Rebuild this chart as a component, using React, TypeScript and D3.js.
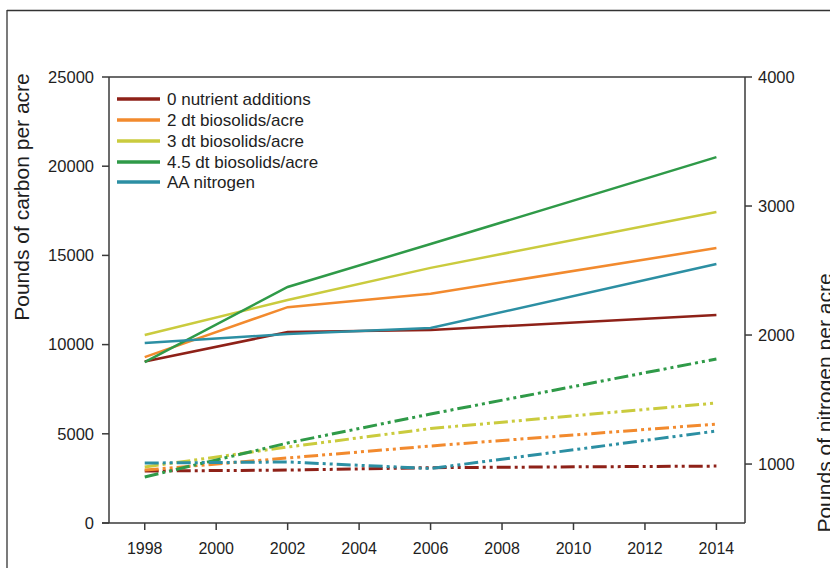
import React from "react";
import * as d3 from "d3";

const years = [1998, 2002, 2006, 2014];
const seriesNames = ["0 nutrient additions", "2 dt biosolids/acre", "3 dt biosolids/acre", "4.5 dt biosolids/acre", "AA nitrogen"];
const seriesColors = ["#8E2118", "#F28A2E", "#CACB3E", "#2F9A48", "#2C8FA3"];
// Pounds of carbon per acre (left axis, solid)
const carbon0 = [9050, 10700, 10820, 11660];
const carbon2 = [9300, 12100, 12850, 15410];
const carbon3 = [10540, 12500, 14300, 17430];
const carbon45 = [9020, 13230, 15640, 20510];
const carbonAA = [10090, 10590, 10930, 14520];
// Pounds of nitrogen per acre (right axis, dash-dot-dot)
const nitrogen0 = [946, 953, 972, 984];
const nitrogen2 = [953, 1047, 1140, 1310];
const nitrogen3 = [977, 1132, 1275, 1473];
const nitrogen45 = [900, 1163, 1388, 1814];
const nitrogenAA = [1008, 1016, 965, 1256];

const xTicks = [1998, 2000, 2002, 2004, 2006, 2008, 2010, 2012, 2014];
const leftTicks = [0, 5000, 10000, 15000, 20000, 25000];
const rightTicks = [1000, 2000, 3000, 4000];

const carbonSeries = [carbon0, carbon2, carbon3, carbon45, carbonAA];
const nitrogenSeries = [nitrogen0, nitrogen2, nitrogen3, nitrogen45, nitrogenAA];

export default function App() {
  const W = 830, H = 568;
  const L = 109, R = 745, T = 77, B = 523;
  const x = d3.scaleLinear().domain([1997, 2014.8]).range([L, R]);
  const yL = d3.scaleLinear().domain([0, 25000]).range([B, T]);
  const yR = d3.scaleLinear().domain([543, 4000]).range([B, T]);
  const lineL = d3.line<number>().x((_, i) => x(years[i])).y((v) => yL(v));
  const lineR = d3.line<number>().x((_, i) => x(years[i])).y((v) => yR(v));
  const font = "Liberation Sans, Arial, sans-serif";
  const axisColor = "#3a3a3a";
  const textColor = "#1e1e1e";
  const legendY = [99, 120, 141, 162, 182];

  return (
    <svg width={W} height={H} style={{ position: "absolute", left: 0, top: 0, background: "#fff" }} fontFamily={font}>
      <rect x={0} y={0} width={W} height={H} fill="#fff" />
      {/* outer frame */}
      <line x1={7} y1={10.5} x2={W} y2={10.5} stroke="#333" strokeWidth={1.3} />
      <line x1={7} y1={10} x2={7} y2={H} stroke="#333" strokeWidth={1.3} />

      {/* nitrogen lines (dash-dot-dot) */}
      {nitrogenSeries.map((s, i) => (
        <path key={"n" + i} d={lineR(s) || ""} fill="none" stroke={seriesColors[i]} strokeWidth={3}
          strokeDasharray="14,4,3,4,3,4" />
      ))}
      {/* carbon lines (solid) */}
      {carbonSeries.map((s, i) => (
        <path key={"c" + i} d={lineL(s) || ""} fill="none" stroke={seriesColors[i]} strokeWidth={2.5} />
      ))}

      {/* plot box */}
      <line x1={L} y1={T} x2={R} y2={T} stroke={axisColor} strokeWidth={1.5} />
      <line x1={L} y1={T} x2={L} y2={B} stroke={axisColor} strokeWidth={1.5} />
      <line x1={R} y1={T} x2={R} y2={B} stroke={axisColor} strokeWidth={1.5} />
      <line x1={L - 7} y1={B} x2={R} y2={B} stroke={axisColor} strokeWidth={1.5} />

      {/* left ticks */}
      {leftTicks.map((t) => (
        <g key={"l" + t}>
          <line x1={L - 7} x2={L} y1={yL(t)} y2={yL(t)} stroke={axisColor} strokeWidth={1.5} />
          <text x={94} y={yL(t)} dy="0.35em" textAnchor="end" fontSize={16.5} fill={textColor}>{t}</text>
        </g>
      ))}
      {/* right ticks */}
      {rightTicks.map((t) => (
        <g key={"r" + t}>
          <line x1={R} x2={R + 7} y1={yR(t)} y2={yR(t)} stroke={axisColor} strokeWidth={1.5} />
          <text x={758} y={yR(t)} dy="0.35em" textAnchor="start" fontSize={16.5} fill={textColor}>{t}</text>
        </g>
      ))}
      {/* bottom ticks */}
      {xTicks.map((t) => (
        <g key={"x" + t}>
          <line x1={x(t)} x2={x(t)} y1={B} y2={B + 7} stroke={axisColor} strokeWidth={1.5} />
          <text x={x(t)} y={B + 31} textAnchor="middle" fontSize={16} fill={textColor}>{t}</text>
        </g>
      ))}

      {/* axis titles */}
      <text transform="translate(29,197) rotate(-90)" textAnchor="middle" fontSize={21} fill={textColor}>Pounds of carbon per acre</text>
      <text transform="translate(832,403) rotate(-90)" textAnchor="middle" fontSize={21} fill={textColor}>Pounds of nitrogen per acre</text>

      {/* legend */}
      {seriesNames.map((n, i) => (
        <g key={"lg" + i}>
          <line x1={117} x2={160} y1={legendY[i]} y2={legendY[i]} stroke={seriesColors[i]} strokeWidth={3.5} />
          <text x={167} y={legendY[i]} dy="0.35em" fontSize={17} fill={textColor}>{n}</text>
        </g>
      ))}
    </svg>
  );
}
